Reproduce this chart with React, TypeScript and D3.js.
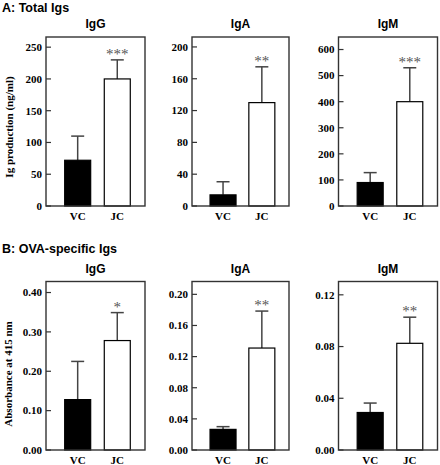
import React from "react";
import * as d3 from "d3";

const groups = ["VC", "JC"];

// Panel A: Total Igs (ng/ml)
const totalIgGMean = [72, 200];
const totalIgGErr = [38, 30];
const totalIgAMean = [14, 130];
const totalIgAErr = [16.5, 45];
const totalIgMMean = [90, 400];
const totalIgMErr = [38, 130];

// Panel B: OVA-specific Igs (absorbance)
const ovaIgGMean = [0.128, 0.278];
const ovaIgGErr = [0.097, 0.071];
const ovaIgAMean = [0.0265, 0.131];
const ovaIgAErr = [0.0035, 0.0475];
const ovaIgMMean = [0.029, 0.0825];
const ovaIgMErr = [0.0073, 0.0202];

const totalIgGTicks = [0, 50, 100, 150, 200, 250];
const totalIgATicks = [0, 40, 80, 120, 160, 200];
const totalIgMTicks = [0, 100, 200, 300, 400, 500, 600];
const ovaIgGTicks = [0, 0.1, 0.2, 0.3, 0.4];
const ovaIgATicks = [0, 0.04, 0.08, 0.12, 0.16, 0.2];
const ovaIgMTicks = [0, 0.04, 0.08, 0.12];

const stars = {
  A: ["***", "**", "***"],
  B: ["*", "**", "**"],
};

const panelTitles = ["IgG", "IgA", "IgM"];

type Panel = {
  title: string;
  mean: number[];
  err: number[];
  ticks: number[];
  max: number;
  fmt: (v: number) => string;
  star: string;
  left: number;
  right: number;
  top: number;
  bottom: number;
};

const colX = [
  [46, 145],
  [192, 289],
  [338.5, 437.5],
];
const rowY = [
  [37, 206],
  [281.5, 450],
];

const intFmt = (v: number) => d3.format("d")(v);
const f2 = (v: number) => d3.format(".2f")(v);

const panels: Panel[] = [
  { title: panelTitles[0], mean: totalIgGMean, err: totalIgGErr, ticks: totalIgGTicks, max: 266, fmt: intFmt, star: stars.A[0], left: colX[0][0], right: colX[0][1], top: rowY[0][0], bottom: rowY[0][1] },
  { title: panelTitles[1], mean: totalIgAMean, err: totalIgAErr, ticks: totalIgATicks, max: 212.5, fmt: intFmt, star: stars.A[1], left: colX[1][0], right: colX[1][1], top: rowY[0][0], bottom: rowY[0][1] },
  { title: panelTitles[2], mean: totalIgMMean, err: totalIgMErr, ticks: totalIgMTicks, max: 648, fmt: intFmt, star: stars.A[2], left: colX[2][0], right: colX[2][1], top: rowY[0][0], bottom: rowY[0][1] },
  { title: panelTitles[0], mean: ovaIgGMean, err: ovaIgGErr, ticks: ovaIgGTicks, max: 0.428, fmt: f2, star: stars.B[0], left: colX[0][0], right: colX[0][1], top: rowY[1][0], bottom: rowY[1][1] },
  { title: panelTitles[1], mean: ovaIgAMean, err: ovaIgAErr, ticks: ovaIgATicks, max: 0.2165, fmt: f2, star: stars.B[1], left: colX[1][0], right: colX[1][1], top: rowY[1][0], bottom: rowY[1][1] },
  { title: panelTitles[2], mean: ovaIgMMean, err: ovaIgMErr, ticks: ovaIgMTicks, max: 0.1303, fmt: f2, star: stars.B[2], left: colX[2][0], right: colX[2][1], top: rowY[1][0], bottom: rowY[1][1] },
];

const serif = "'Liberation Serif', 'Times New Roman', serif";
const sans = "'Liberation Sans', Arial, sans-serif";

function BarPanel({ p }: { p: Panel }) {
  const y = d3.scaleLinear().domain([0, p.max]).range([p.bottom, p.top]);
  const w = p.right - p.left;
  const x = d3
    .scalePoint<string>()
    .domain(groups)
    .range([p.left + 0.32 * w, p.left + 0.72 * w]);
  const barW = 26;
  const capHalf = 6.5;
  return (
    <g>
      <text
        x={(p.left + p.right) / 2}
        y={p.top - 9}
        textAnchor="middle"
        fontFamily={sans}
        fontWeight="bold"
        fontSize={12}
      >
        {p.title}
      </text>
      {groups.map((g, i) => {
        const cx = x(g)!;
        const yTop = y(p.mean[i]);
        const yErr = y(p.mean[i] + p.err[i]);
        return (
          <g key={g}>
            <line x1={cx} x2={cx} y1={yTop} y2={yErr} stroke="#444" strokeWidth={1.5} />
            <line x1={cx - capHalf} x2={cx + capHalf} y1={yErr} y2={yErr} stroke="#444" strokeWidth={1.5} />
            <rect
              x={cx - barW / 2}
              y={yTop}
              width={barW}
              height={p.bottom - yTop}
              fill={i === 0 ? "#000" : "#fff"}
              stroke="#000"
              strokeWidth={1.2}
            />
            <text
              x={cx}
              y={p.bottom + 14}
              textAnchor="middle"
              fontFamily={serif}
              fontWeight="bold"
              fontSize={11}
            >
              {g}
            </text>
            {i === 1 && (
              <text
                x={cx}
                y={yErr - 1}
                textAnchor="middle"
                fontFamily={serif}
                fontSize={15}
                fill="#555"
              >
                {p.star}
              </text>
            )}
          </g>
        );
      })}
      {p.ticks.map((t) => (
        <g key={t}>
          <line x1={p.left} x2={p.left + 5} y1={y(t)} y2={y(t)} stroke="#333" strokeWidth={1.2} />
          <text
            x={p.left - 4}
            y={y(t)}
            dy="0.35em"
            textAnchor="end"
            fontFamily={serif}
            fontWeight="bold"
            fontSize={11}
          >
            {p.fmt(t)}
          </text>
        </g>
      ))}
      <rect
        x={p.left}
        y={p.top}
        width={w}
        height={p.bottom - p.top}
        fill="none"
        stroke="#333"
        strokeWidth={1.4}
      />
    </g>
  );
}

export default function App() {
  return (
    <svg
      width={440}
      height={465}
      style={{ position: "absolute", left: 0, top: 0, background: "#fff" }}
    >
      <text x={2} y={12} fontFamily={sans} fontWeight="bold" fontSize={12.5}>
        A: Total Igs
      </text>
      <text x={2} y={253} fontFamily={sans} fontWeight="bold" fontSize={12.5}>
        B: OVA-specific Igs
      </text>
      <text
        transform={`translate(13,127) rotate(-90)`}
        textAnchor="middle"
        fontFamily={serif}
        fontWeight="bold"
        fontSize={11}
      >
        Ig production (ng/ml)
      </text>
      <text
        transform={`translate(12,374) rotate(-90)`}
        textAnchor="middle"
        fontFamily={serif}
        fontWeight="bold"
        fontSize={11}
      >
        Absorbance at 415 nm
      </text>
      {panels.map((p, i) => (
        <BarPanel key={i} p={p} />
      ))}
    </svg>
  );
}
